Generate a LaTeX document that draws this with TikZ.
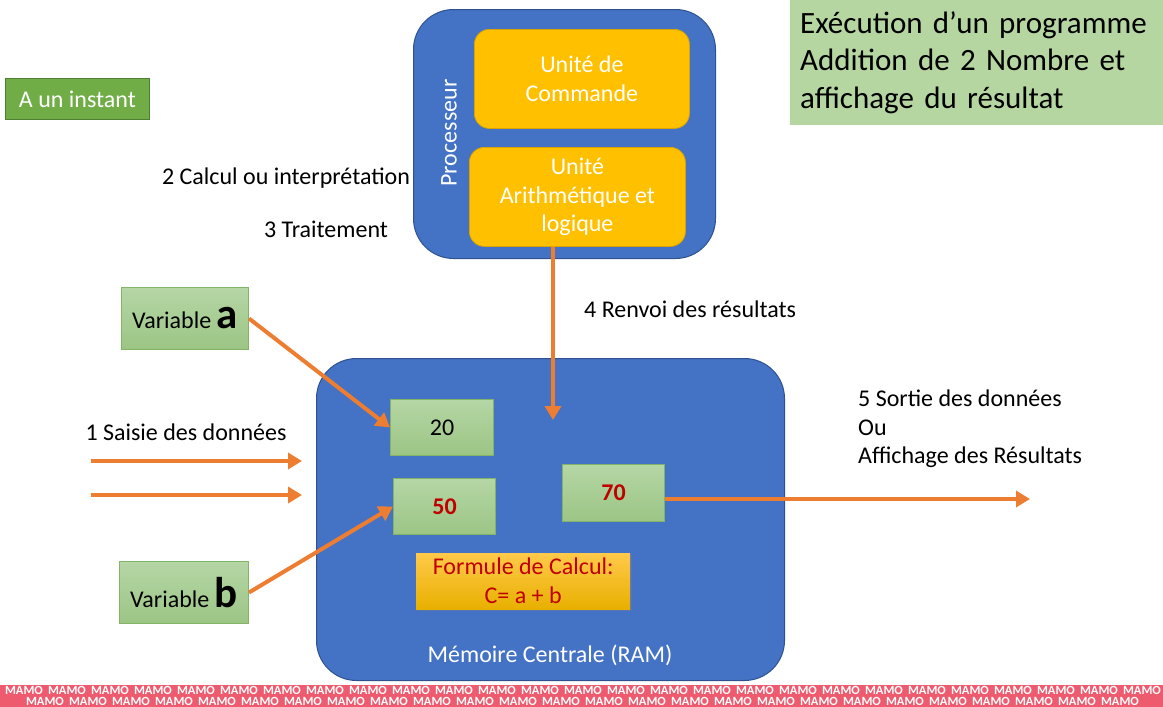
\documentclass[tikz,border=0pt]{standalone}
\usepackage{fontspec}
\setmainfont{Carlito}
\usetikzlibrary{arrows.meta,shadows}
\definecolor{pblue}{HTML}{4472C4}
\definecolor{pblueD}{HTML}{2F528F}
\definecolor{porange}{HTML}{ED7D31}
\definecolor{pgold}{HTML}{FFC000}
\definecolor{pgoldD}{HTML}{D9A400}
\definecolor{pgoldT}{HTML}{FFC94A}
\definecolor{pgoldB}{HTML}{E8B000}
\definecolor{pgreenT}{HTML}{B5D6A5}
\definecolor{pgreenB}{HTML}{9CC585}
\definecolor{pgreenE}{HTML}{82B366}
\definecolor{pgreen}{HTML}{70AD47}
\definecolor{pgreenD}{HTML}{507E32}
\definecolor{ptitle}{HTML}{B5D6A1}
\definecolor{pred}{HTML}{C00000}
\definecolor{pwm}{HTML}{EE5A6E}
\tikzset{
 txt/.style={font=\fontsize{24}{28.5}\selectfont, inner sep=0pt},
 bigblue/.style={draw=pblueD, fill=pblue, line width=1pt, rounded corners=40pt, anchor=north west},
 unitbox/.style={draw=pgoldD, fill=pgold, line width=0.8pt, rounded corners=15pt, anchor=north west, text=white, align=center, font=\fontsize{24}{28.5}\selectfont},
 cell/.style={draw=pgreenE, line width=1pt, top color=pgreenT, bottom color=pgreenB, anchor=north west, font=\fontsize{24}{28}\selectfont, inner sep=0pt},
 arr/.style={draw=porange, line width=4pt, -{Triangle[length=14pt,width=16pt]}},
 wmtxt/.style={text=white, font=\fontsize{12.5}{12.5}\selectfont\bfseries, inner sep=0pt, text height=8pt, text depth=0pt},
}
\begin{document}
\begin{tikzpicture}[x=1pt,y=-1pt]
\useasboundingbox (0,0) rectangle (1163,707);
% title
\node[anchor=north west, fill=ptitle, minimum width=373pt, minimum height=125pt, inner xsep=10pt, text width=353pt, align=left, font=\fontsize{31}{37.5}\selectfont] (title) at (790,0) {Exécution d’un programme\\Addition de 2 Nombre et\\affichage du résultat};
% instant
\node[anchor=north west, draw=pgreenD, fill=pgreen, line width=0.8pt, minimum width=144pt, minimum height=41pt, text=white, font=\fontsize{24}{28}\selectfont] (inst) at (5,78) {A un instant};
% processor
\node[bigblue, minimum width=302pt, minimum height=249pt] (proc) at (413,9) {};
\node[rotate=90, text=white, font=\fontsize{24}{28}\selectfont] (proclbl) at (449,133) {Processeur};
\node[unitbox, minimum width=215pt, minimum height=99pt] (uc) at (474,29) {Unité de\\Commande};
\node[unitbox, minimum width=216pt, minimum height=99pt] (ual) at (469,147) {Unité\\Arithmétique et\\logique};
% memory
\node[bigblue, minimum width=468pt, minimum height=322pt] (mem) at (316,358) {};
\node[text=white, font=\fontsize{24}{28}\selectfont] (memlbl) at (550,655) {Mémoire Centrale (RAM)};
\node[cell, minimum width=103pt, minimum height=56pt] (v20) at (390,399) {20};
\node[cell, minimum width=102pt, minimum height=56pt, text=pred, font=\fontsize{24}{28}\selectfont\bfseries] (v50) at (393,478) {50};
\node[cell, minimum width=102pt, minimum height=57pt, text=pred, font=\fontsize{24}{28}\selectfont\bfseries] (v70) at (562,464) {70};
\node[anchor=north west, minimum width=214pt, minimum height=56pt, inner sep=0pt, top color=pgoldT, bottom color=pgoldB, text=pred, align=center, font=\fontsize{24}{29}\selectfont, drop shadow={shadow xshift=2pt, shadow yshift=-2pt, opacity=0.35}] (form) at (416,553) {Formule de Calcul:\\C= a + b};
% variables
\node[cell, minimum width=127pt, minimum height=62pt] (va) at (121,287) {Variable {\fontsize{43}{46}\selectfont\bfseries a}};
\node[cell, minimum width=129pt, minimum height=62pt] (vb) at (119,561) {Variable {\fontsize{43}{46}\selectfont\bfseries b}};
% labels
\node[txt] (saisie) at (186,432) {1 Saisie des données};
\node[txt] (calc) at (286,178) {2 Calcul ou interprétation};
\node[txt] (trait) at (326,229) {3 Traitement};
\node[txt, anchor=west] (renvoi) at (584,309) {4 Renvoi des résultats};
\node[txt, anchor=west, align=left] (sortie) at (858,429) {5 Sortie des données\\Ou\\Affichage des Résultats};
% arrows
\coordinate (r4) at (553,420);
\draw[arr] (ual.south -| r4) -- (r4);
\coordinate (s1a) at (91,461);
\coordinate (s1b) at (302,461);
\coordinate (s2a) at (91,495);
\coordinate (s2b) at (302,495);
\draw[arr] (s1a) -- (s1b);
\draw[arr] (s2a) -- (s2b);
\draw[arr] (va.east) -- (v20.west);
\draw[arr] (vb.east) -- (v50.west);
\coordinate (out) at (1030,499);
\draw[arr] (v70.east |- out) -- (out);
% watermark strip
\fill[pwm] (0,685) rectangle (1163,707);
\foreach \i in {0,...,26} {
  \node[wmtxt] (wma\i) at (\i*43+24,690.5) {MAMO};
}
\foreach \i in {0,...,25} {
  \node[wmtxt] (wmb\i) at (\i*43+45,701.5) {MAMO};
}
\end{tikzpicture}
\end{document}
